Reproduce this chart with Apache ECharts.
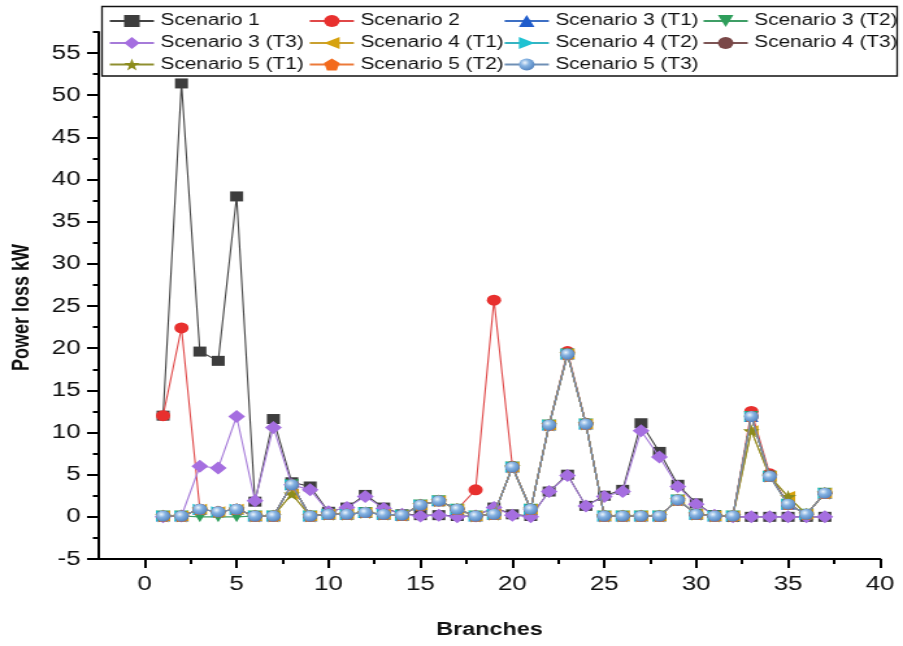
<!DOCTYPE html>
<html><head><meta charset="utf-8">
<script src="https://cdn.jsdelivr.net/npm/echarts@6/dist/echarts.min.js"></script>
<style>html,body{margin:0;padding:0;background:#fff;overflow:hidden}
#c{width:695px;height:646px;transform:scaleX(1.29928);transform-origin:0 0}</style>
</head><body><div id="c"></div>
<script>
const branches = [1,2,3,4,5,6,7,8,9,10,11,12,13,14,15,16,17,18,19,20,21,22,23,24,25,26,27,28,29,30,31,32,33,34,35,36,37];
const seriesNames = ['Scenario 1','Scenario 2','Scenario 3 (T1)','Scenario 3 (T2)','Scenario 3 (T3)','Scenario 4 (T1)','Scenario 4 (T2)','Scenario 4 (T3)','Scenario 5 (T1)','Scenario 5 (T2)','Scenario 5 (T3)'];
const scenario1   = [12.0,51.4,19.6,18.5,38.0,1.8,11.6,4.1,3.6,0.6,1.1,2.6,1.1,0.3,0.2,0.2,0.1,0.1,1.1,0.3,0.1,3.0,5.0,1.3,2.5,3.2,11.1,7.7,3.8,1.6,0.2,0.0,0.0,0.0,0.0,0.0,0.0];
const scenario2   = [12.0,22.4,0.9,0.6,0.9,0.1,0.1,3.8,0.1,0.3,0.3,0.5,0.3,0.2,1.4,1.9,0.9,3.2,25.7,6.0,0.9,10.9,19.6,11.1,0.1,0.1,0.1,0.1,2.0,0.3,0.1,0.1,12.5,5.1,1.5,0.3,2.8];
const scenario3T1 = [0.1,0.1,0.9,0.6,0.9,0.1,0.1,3.8,0.1,0.3,0.3,0.5,0.3,0.2,1.4,1.9,0.9,0.1,0.3,5.9,0.9,10.9,19.3,11.0,0.1,0.1,0.1,0.1,2.0,0.3,0.1,0.1,11.9,4.8,1.5,0.3,2.8];
const scenario3T2 = [0.1,0.1,0.0,0.0,0.0,0.1,0.1,3.8,0.1,0.3,0.3,0.5,0.3,0.2,1.4,1.9,0.9,0.1,0.3,5.9,0.9,10.9,19.3,11.0,0.1,0.1,0.1,0.1,2.0,0.3,0.1,0.1,11.9,4.8,1.5,0.3,2.8];
const scenario3T3 = [0.0,0.1,6.0,5.8,11.9,1.9,10.6,3.8,3.2,0.6,1.1,2.4,1.0,0.3,0.1,0.2,0.0,0.1,1.1,0.2,0.0,3.0,4.9,1.3,2.4,3.0,10.2,7.1,3.6,1.5,0.2,0.0,0.0,0.0,0.0,0.0,0.0];
const scenario4T1 = [0.1,0.1,0.9,0.6,0.9,0.1,0.1,2.7,0.1,0.3,0.3,0.5,0.3,0.2,1.4,1.9,0.9,0.1,0.3,5.9,0.9,10.9,19.3,11.0,0.1,0.1,0.1,0.1,2.0,0.3,0.1,0.1,10.2,4.8,2.4,0.3,2.8];
const scenario4T2 = [0.1,0.1,0.9,0.6,0.9,0.1,0.1,3.8,0.1,0.3,0.3,0.5,0.3,0.2,1.4,1.9,0.9,0.1,0.3,5.9,0.9,10.9,19.3,11.0,0.1,0.1,0.1,0.1,2.0,0.3,0.1,0.1,11.9,4.8,1.5,0.3,2.8];
const scenario4T3 = [0.1,0.1,0.9,0.6,0.9,0.1,0.1,3.8,0.1,0.3,0.3,0.5,0.3,0.2,1.4,1.9,0.9,0.1,0.3,5.9,0.9,10.9,19.3,11.0,0.1,0.1,0.1,0.1,2.0,0.3,0.1,0.1,11.9,4.9,1.5,0.3,2.8];
const scenario5T1 = [0.1,0.1,0.9,0.6,0.9,0.1,0.1,2.7,0.1,0.3,0.3,0.5,0.3,0.2,1.4,1.9,0.9,0.1,0.3,5.9,0.9,10.9,19.3,11.0,0.1,0.1,0.1,0.1,2.0,0.3,0.1,0.1,10.2,4.8,2.4,0.3,2.8];
const scenario5T2 = [0.1,0.1,0.9,0.6,0.9,0.1,0.1,3.8,0.1,0.3,0.3,0.5,0.3,0.2,1.4,1.9,0.9,0.1,0.3,5.9,0.9,10.9,19.3,11.0,0.1,0.1,0.1,0.1,2.0,0.3,0.1,0.1,11.9,4.8,1.5,0.3,2.8];
const scenario5T3 = [0.1,0.1,0.9,0.6,0.9,0.1,0.1,3.8,0.1,0.3,0.3,0.5,0.3,0.2,1.4,1.9,0.9,0.1,0.3,5.9,0.9,10.9,19.3,11.0,0.1,0.1,0.1,0.1,2.0,0.3,0.1,0.1,11.9,4.8,1.5,0.3,2.8];
const xTickLabels = [0,5,10,15,20,25,30,35,40];
const xMinorTicks = [2.5,7.5,12.5,17.5,22.5,27.5,32.5,37.5];
const yTickLabels = [-5,0,5,10,15,20,25,30,35,40,45,50,55];
const yMinorTicks = [-2.5,2.5,7.5,12.5,17.5,22.5,27.5,32.5,37.5,42.5,47.5,52.5,57.5];

const allValues = [scenario1,scenario2,scenario3T1,scenario3T2,scenario3T3,scenario4T1,scenario4T2,scenario4T3,scenario5T1,scenario5T2,scenario5T3];

const STAR = 'path://M50,0 L61,35 L98,35 L68,57 L79,91 L50,70 L21,91 L32,57 L2,35 L39,35 Z';
const PENT = 'path://M50,0 L98,36 L80,95 L20,95 L2,36 Z';
const TRI_DOWN = 'path://M0,0 L100,0 L50,87 Z';
const TRI_LEFT = 'path://M0,50 L87,0 L87,100 Z';
const TRI_RIGHT = 'path://M0,0 L87,50 L0,100 Z';
const blueGrad = {type:'radial',x:0.38,y:0.35,r:0.7,colorStops:[{offset:0,color:'#eef5fc'},{offset:0.4,color:'#86b3e2'},{offset:1,color:'#4f80bd'}]};

const styles = [
  {symbol:'rect', size:10, color:'#3d3d3d', line:'#444444'},
  {symbol:'circle', size:11, color:'#e8302e', line:'#e04848'},
  {symbol:'triangle', size:11, color:'#1f5ccc', line:'#3d6fc4'},
  {symbol:TRI_DOWN, size:11, color:'#2e9e5b', line:'#3f9e66'},
  {symbol:'diamond', size:13, color:'#a56ee0', line:'#a67bd9'},
  {symbol:TRI_LEFT, size:11, color:'#d6a20f', line:'#c9a030'},
  {symbol:TRI_RIGHT, size:11, color:'#1fc2d2', line:'#36b4c2'},
  {symbol:'circle', size:11, color:'#7a4848', line:'#7d5555'},
  {symbol:STAR, size:13, color:'#8c8c1c', line:'#8f8f30'},
  {symbol:PENT, size:11, color:'#f36a1c', line:'#ec7a3a'},
  {symbol:'circle', size:11, color:blueGrad, line:'#6f8fb5'}
];

const series = seriesNames.map((name, k) => ({
  name: name,
  type: 'line',
  xAxisIndex: 0, yAxisIndex: 0,
  data: branches.map((b, i) => [b, allValues[k][i]]),
  symbol: styles[k].symbol,
  symbolSize: styles[k].size,
  itemStyle: {color: styles[k].color},
  lineStyle: {color: styles[k].line, width: 1.1},
  z: 2 + k,
  animation: false
}));

const legendCols = [83.5, 237.4, 387.4, 540.5];
const legendRows = [11.5, 33.5, 55];
const legends = seriesNames.map((name, k) => ({
  data: [name],
  left: legendCols[k % 4],
  top: legendRows[Math.floor(k / 4)],
  itemWidth: 34, itemHeight: 15, itemGap: 0,
  textStyle: {fontFamily: 'Liberation Sans, Arial, sans-serif', fontSize: 16, color: '#111', lineHeight: 19},
  selectedMode: false,
  padding: 0
}));

const chart = echarts.init(document.getElementById('c'));
chart.setOption({
  backgroundColor: '#fff',
  animation: false,
  grid: {left: 73.9, right: 17.7, top: 32, bottom: 87},
  legend: legends,
  graphic: [{type:'rect', shape:{x:78.5, y:6.5, width:612, height:69.5}, style:{fill:'none', stroke:'#111', lineWidth:1.3}, z:100}],
  xAxis: [{
    type: 'value', min: -2.5, max: 40, position: 'bottom',
    name: 'Branches', nameLocation: 'middle', nameGap: 62,
    nameTextStyle: {fontFamily: 'Liberation Sans, Arial, sans-serif', fontSize: 18, fontWeight: 'bold', color: '#111'},
    axisLine: {show: true, onZero: false, lineStyle: {color: '#000', width: 2}},
    axisTick: {show: true, inside: false, length: 9, customValues: xTickLabels, lineStyle: {color: '#000', width: 2}},
    axisLabel: {customValues: xTickLabels, margin: 15, fontFamily: 'Liberation Sans, Arial, sans-serif', fontSize: 20, color: '#111'},
    splitLine: {show: false}
  }, {
    type: 'value', min: -2.5, max: 40, position: 'bottom', offset: 0,
    axisLine: {show: false, onZero: false},
    axisTick: {show: true, inside: false, length: 5, customValues: xMinorTicks, lineStyle: {color: '#000', width: 2}},
    axisLabel: {show: false},
    splitLine: {show: false}
  }],
  yAxis: [{
    type: 'value', min: -5, max: 57.5, position: 'left',
    name: 'Power loss kW', nameLocation: 'middle', nameGap: 50, nameRotate: 90,
    nameTextStyle: {fontFamily: 'Liberation Sans, Arial, sans-serif', fontSize: 18, fontWeight: 'bold', color: '#111', padding:[0,0,0,-24]},
    axisLine: {show: true, onZero: false, lineStyle: {color: '#000', width: 2}},
    axisTick: {show: true, inside: false, length: 9, customValues: yTickLabels, lineStyle: {color: '#000', width: 2}},
    axisLabel: {customValues: yTickLabels, margin: 14, fontFamily: 'Liberation Sans, Arial, sans-serif', fontSize: 20, color: '#111'},
    splitLine: {show: false}
  }, {
    type: 'value', min: -5, max: 57.5, position: 'left', offset: 0,
    axisLine: {show: false, onZero: false},
    axisTick: {show: true, inside: false, length: 4.5, customValues: yMinorTicks, lineStyle: {color: '#000', width: 2}},
    axisLabel: {show: false},
    splitLine: {show: false}
  }],
  series: series
});
</script></body></html>
